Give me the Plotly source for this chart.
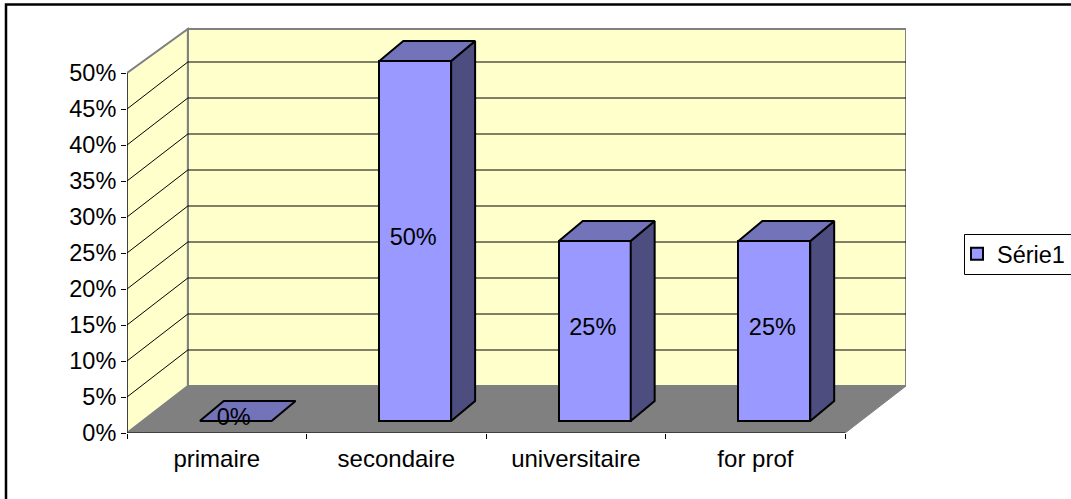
import plotly.graph_objects as go

categories = ["primaire", "secondaire", "universitaire", "for prof"]
values = [0, 50, 25, 25]
value_ticks = [0, 5, 10, 15, 20, 25, 30, 35, 40, 45, 50]
series_name = "Série1"

# pixel scale of the axes, the fake 3D depth is worked out from it
PX_X = 180.0
PX_Y = 7.2
WALL_DX = 61 / PX_X
WALL_DY = 47 / PX_Y
WALL_TOP = 50 - 3 / PX_Y
BAR_LEFT = 73 / PX_X
BAR_W = 72 / PX_X
BAR_BASE = 12 / PX_Y
SIDE_DX = 24 / PX_X
SIDE_DY = 20 / PX_Y
YMAX = value_ticks[-1]
NCAT = len(categories)

# plot area in the 1071x499 page
LEFT, TOP, WIDTH, HEIGHT = 127, 26, 779, 407


def paper_x(px):
    return (px - LEFT) / WIDTH


def paper_y(px):
    return (TOP + HEIGHT - px) / HEIGHT


def poly(points):
    return "M " + " L ".join(f"{x},{y}" for x, y in points) + " Z"


fig = go.Figure()

# back wall, side wall, floor
wall = dict(type="path", layer="below", xref="x", yref="y")
fig.add_shape(path=poly([(WALL_DX, WALL_DY), (NCAT + WALL_DX, WALL_DY),
                         (NCAT + WALL_DX, WALL_TOP + WALL_DY), (WALL_DX, WALL_TOP + WALL_DY)]),
              fillcolor="#FFFFCC", line=dict(color="#808080", width=2), **wall)
fig.add_shape(path=poly([(0, 0), (WALL_DX, WALL_DY), (WALL_DX, WALL_TOP + WALL_DY), (0, YMAX)]),
              fillcolor="#FFFFCC", line=dict(color="#808080", width=2), **wall)
fig.add_shape(path=poly([(0, 0), (NCAT, 0), (NCAT + WALL_DX, WALL_DY), (WALL_DX, WALL_DY)]),
              fillcolor="#808080", line=dict(color="#808080", width=1), **wall)

# gridlines on both walls
for v in value_ticks[1:-1]:
    fig.add_shape(type="line", layer="below", xref="x", yref="y",
                  x0=0, y0=v, x1=WALL_DX, y1=v + WALL_DY,
                  line=dict(color="black", width=1))
    fig.add_shape(type="line", layer="below", xref="x", yref="y",
                  x0=WALL_DX, y0=v + WALL_DY, x1=NCAT + WALL_DX, y1=v + WALL_DY,
                  line=dict(color="black", width=1))

# front faces
bar_x = [i + BAR_LEFT + BAR_W / 2 for i in range(NCAT)]
fig.add_trace(go.Bar(
    x=bar_x, y=values, base=BAR_BASE, width=BAR_W, name=series_name,
    marker=dict(color="#9999FF", line=dict(color="black", width=2)),
    showlegend=True, hoverinfo="skip",
))

# side and top faces
for i, v in enumerate(values):
    x0 = i + BAR_LEFT
    x1 = x0 + BAR_W
    y0 = BAR_BASE
    y1 = BAR_BASE + v
    if v > 0:
        fig.add_trace(go.Scatter(
            x=[x1, x1 + SIDE_DX, x1 + SIDE_DX, x1, x1],
            y=[y0, y0 + SIDE_DY, y1 + SIDE_DY, y1, y0],
            mode="lines", fill="toself", fillcolor="#4D4D80",
            line=dict(color="black", width=2), showlegend=False, hoverinfo="skip",
        ))
    fig.add_trace(go.Scatter(
        x=[x0, x1, x1 + SIDE_DX, x0 + SIDE_DX, x0],
        y=[y1, y1, y1 + SIDE_DY, y1 + SIDE_DY, y1],
        mode="lines", fill="toself", fillcolor="#7373B9",
        line=dict(color="black", width=2), showlegend=False, hoverinfo="skip",
    ))

# data labels
fig.add_trace(go.Scatter(
    x=[i + BAR_LEFT + BAR_W / 2 - 2 / PX_X for i in range(NCAT)],
    y=[BAR_BASE + v / 2 + 0.28 for v in values],
    mode="text", text=[f"{v}%" for v in values],
    textposition="middle center",
    textfont=dict(family="Liberation Sans", size=23.5, color="black"),
    showlegend=False, hoverinfo="skip",
))

# front axis lines
fig.add_trace(go.Scatter(
    x=[0, 0, None, 0, NCAT], y=[0, YMAX, None, 0, 0],
    mode="lines", line=dict(color="black", width=1),
    showlegend=False, hoverinfo="skip", cliponaxis=False,
))

fig.update_layout(
    width=1071, height=499,
    margin=dict(l=LEFT, r=1071 - LEFT - WIDTH, t=TOP, b=499 - TOP - HEIGHT, autoexpand=False),
    paper_bgcolor="white", plot_bgcolor="white",
    font=dict(family="Liberation Sans", size=23.5, color="black"),
    bargap=0,
    legend=dict(x=paper_x(957), y=paper_y(254), xanchor="left", yanchor="middle",
                borderwidth=0, bgcolor="rgba(0,0,0,0)",
                font=dict(family="Liberation Sans", size=23.5)),
    xaxis=dict(range=[0, NCAT + WALL_DX], showgrid=False, zeroline=False, showline=False,
               tickmode="array", tickvals=[i + 0.5 for i in range(NCAT)],
               ticktext=categories, ticks="", ticklen=0, ticklabelstandoff=9,
               minor=dict(tickmode="array", tickvals=list(range(NCAT + 1)), ticks="outside",
                          ticklen=5, tickwidth=1, tickcolor="black", showgrid=False),
               tickfont=dict(family="Liberation Sans", size=24)),
    yaxis=dict(range=[0, HEIGHT / PX_Y], showgrid=False, zeroline=False, showline=False,
               tickmode="array", tickvals=value_ticks,
               ticktext=[f"{v}%" for v in value_ticks],
               ticks="outside", ticklen=5, tickwidth=1, tickcolor="black",
               tickfont=dict(family="Liberation Sans", size=23.5)),
)

# legend box, it runs off the right edge like the outer frame does
fig.add_shape(type="rect", xref="paper", yref="paper", layer="above",
              x0=paper_x(964.5), x1=paper_x(1100), y0=paper_y(274.5), y1=paper_y(234.5),
              line=dict(color="black", width=1), fillcolor="rgba(0,0,0,0)")

# outer chart frame
fig.add_shape(type="rect", xref="paper", yref="paper", layer="above",
              x0=paper_x(6), x1=paper_x(1100), y0=paper_y(520), y1=paper_y(4.5),
              line=dict(color="black", width=2.5), fillcolor="rgba(0,0,0,0)")

fig.write_html("out.html", config=dict(displayModeBar=False),
               post_script="document.body.style.margin='0';")
